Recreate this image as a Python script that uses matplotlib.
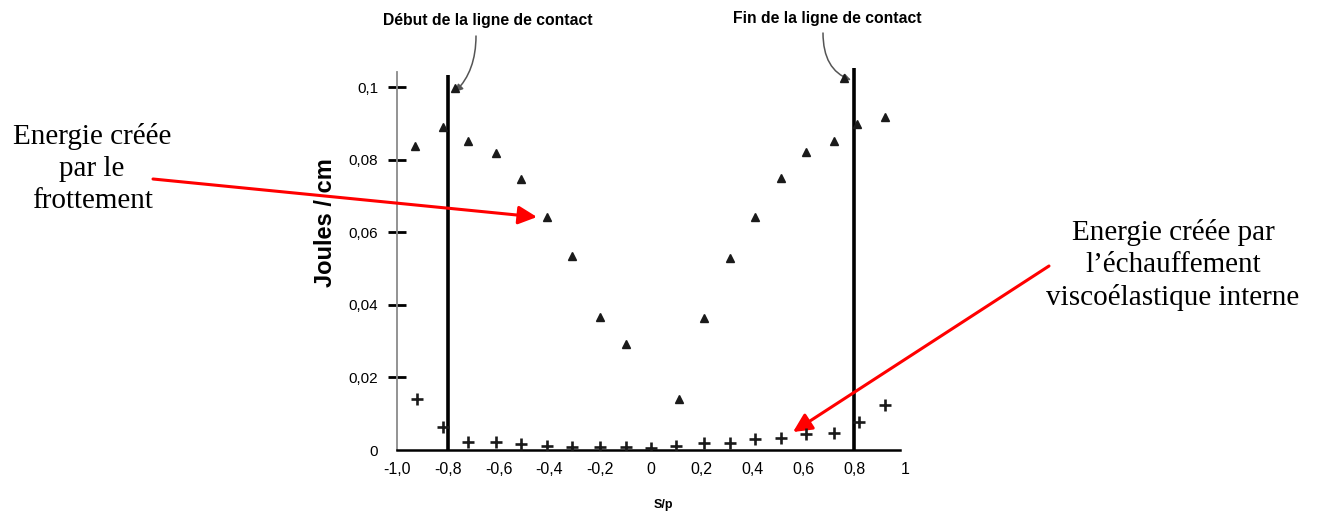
import matplotlib
matplotlib.use("Agg")
import matplotlib.pyplot as plt

# ---- data ----
s_frott = [-0.93, -0.82, -0.77, -0.72, -0.61, -0.51, -0.41, -0.31, -0.20, -0.10,
           0.11, 0.21, 0.31, 0.41, 0.51, 0.61, 0.72, 0.81, 0.76, 0.92]
e_frott = [0.0839, 0.0890, 0.0997, 0.0853, 0.0818, 0.0746, 0.0643, 0.0535, 0.0367, 0.0292,
           0.0141, 0.0365, 0.0529, 0.0642, 0.0749, 0.0822, 0.0853, 0.0899, 0.1026, 0.0917]

s_visco = [-0.92, -0.82, -0.72, -0.61, -0.51, -0.41, -0.31, -0.20, -0.10, 0.0,
           0.10, 0.21, 0.31, 0.41, 0.51, 0.61, 0.72, 0.82, 0.92]
e_visco = [0.0141, 0.0063, 0.0023, 0.0023, 0.0016, 0.0011, 0.0007, 0.0009, 0.0009, 0.0006,
           0.0012, 0.0018, 0.0020, 0.0030, 0.0034, 0.0043, 0.0046, 0.0076, 0.0124]

contact_lines = [-0.8, 0.8]
contact_tops = [0.1034, 0.1053]

xticks = [-1.0, -0.8, -0.6, -0.4, -0.2, 0.0, 0.2, 0.4, 0.6, 0.8, 1.0]
xtick_labels = ["-1,0", "-0,8", "-0,6", "-0,4", "-0,2", "0", "0,2", "0,4", "0,6", "0,8", "1"]
yticks = [0.0, 0.02, 0.04, 0.06, 0.08, 0.1]
ytick_labels = ["0", "0,02", "0,04", "0,06", "0,08", "0,1"]

W, H = 1318, 515
fig = plt.figure(figsize=(W / 100, H / 100), dpi=100)
fig.patch.set_facecolor("white")

def fx(px):
    return px / W

def fy(py):
    return 1 - py / H

ax = fig.add_axes([fx(397), fy(450), (905 - 397) / W, (450 - 65.5) / H])
ax.set_xlim(-1.0, 1.0)
ax.set_ylim(0.0, 0.106)
ax.patch.set_alpha(0)

for sp in ["top", "right"]:
    ax.spines[sp].set_visible(False)
ax.spines["left"].set_color("#8a8a8a")
ax.spines["left"].set_linewidth(1.3)
ax.spines["left"].set_bounds(0, 0.1042)
ax.spines["bottom"].set_color("black")
ax.spines["bottom"].set_linewidth(1.8)
ax.spines["bottom"].set_bounds(-1.0, 0.98)

# contact lines
for xv, top in zip(contact_lines, contact_tops):
    ax.plot([xv, xv], [0, top], color="black", lw=2.6, solid_capstyle="butt", zorder=3)

# data
ax.plot(s_frott, e_frott, linestyle="none", marker="^", ms=5.5, color="#1a1a1a",
        markeredgecolor="#1a1a1a", zorder=4)
ax.plot(s_visco, e_visco, linestyle="none", marker="+", ms=8.5, mew=1.9, color="#1a1a1a", zorder=4)

ax.set_xticks(xticks)
ax.set_xticklabels(xtick_labels, fontsize=11.5, family="Liberation Sans")
ax.set_yticks(yticks)
ax.set_yticklabels(ytick_labels, fontsize=11, family="Liberation Sans")
ax.tick_params(axis="x", length=0, pad=9)
ax.tick_params(axis="y", direction="inout", length=13, width=2.0, color="black", pad=7)
ax.yaxis.get_major_ticks()[0].tick1line.set_visible(False)

# axis labels
fig.text(fx(325), fy(223), "Joules / cm", rotation=90, ha="center", va="center",
         fontsize=17, fontweight="bold", family="Liberation Sans")
fig.text(fx(663), fy(505), "S/p", ha="center", va="center",
         fontsize=9, fontweight="bold", family="Liberation Sans")

# contact-line captions with curved gray arrows
fig.text(fx(488), fy(20), "Début de la ligne de contact", ha="center", va="center",
         fontsize=11.3, fontweight="bold", family="Liberation Sans")
fig.text(fx(827), fy(18), "Fin de la ligne de contact", ha="center", va="center",
         fontsize=11.3, fontweight="bold", family="Liberation Sans")
ax.annotate("", xy=(fx(455), fy(92)), xycoords="figure fraction",
            xytext=(fx(476), fy(36)), textcoords="figure fraction",
            arrowprops=dict(arrowstyle="-|>", color="#555555", lw=1.1,
                            connectionstyle="angle3,angleA=90,angleB=45",
                            shrinkA=0, shrinkB=0, mutation_scale=11))
ax.annotate("", xy=(fx(851), fy(80)), xycoords="figure fraction",
            xytext=(fx(823), fy(33)), textcoords="figure fraction",
            arrowprops=dict(arrowstyle="-|>", color="#555555", lw=1.1,
                            connectionstyle="angle3,angleA=90,angleB=-20",
                            shrinkA=0, shrinkB=0, mutation_scale=11))

# red arrows
red_style = "-|>,head_length=0.75,head_width=0.37"
ax.annotate("", xy=(fx(537), fy(217)), xycoords="figure fraction",
            xytext=(fx(153), fy(179)), textcoords="figure fraction",
            arrowprops=dict(arrowstyle=red_style, color="red", lw=2.2,
                            mutation_scale=15, shrinkA=0, shrinkB=0))
ax.annotate("", xy=(fx(793), fy(432)), xycoords="figure fraction",
            xytext=(fx(1049), fy(266)), textcoords="figure fraction",
            arrowprops=dict(arrowstyle=red_style, color="red", lw=2.2,
                            mutation_scale=15, shrinkA=0, shrinkB=0))

# annotation texts
fig.text(fx(92), fy(169), "Energie créée\npar le\nfrottement", ha="center", va="center",
         fontsize=21, family="Liberation Serif", linespacing=1.3)
fig.text(fx(1173), fy(265), "Energie créée par\nl\u2019échauffement\nviscoélastique interne",
         ha="center", va="center", fontsize=21, family="Liberation Serif", linespacing=1.3)

fig.savefig("out.png", dpi=100, facecolor="white")
